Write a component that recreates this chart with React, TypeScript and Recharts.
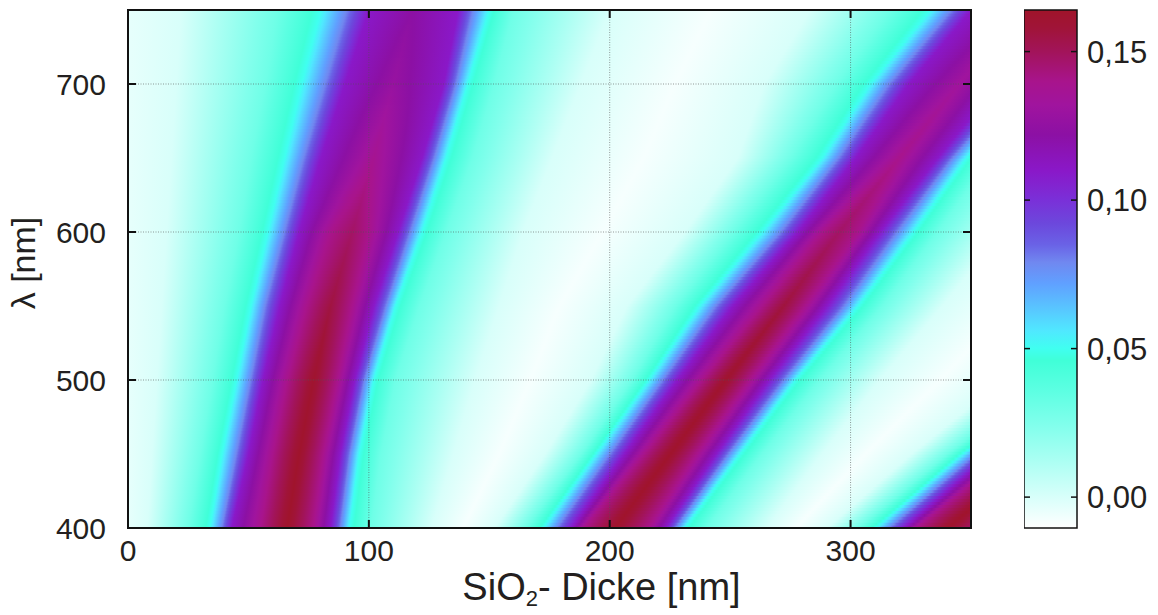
import React from 'react';
import { ComposedChart, XAxis, YAxis, ReferenceArea, ReferenceLine, Label } from 'recharts';

// ---------- axes / ticks ----------
const thicknessTicks = [0, 100, 200, 300];
const wavelengthTicks = [400, 500, 600, 700];
const contrastTicks = [0, 0.05, 0.1, 0.15];
const thicknessDomain: [number, number] = [0, 350];
const wavelengthDomain: [number, number] = [400, 750];
const contrastDomain: [number, number] = [-0.0104, 0.164];

// ---------- field data ----------
// rows of wavelength at which the band edges were read
const rowWavelengths = [400, 450, 500, 550, 600, 650, 700, 750];
// contrast level of each edge position in a band row (null = band peak)
const edgeLevels: (number | null)[] = [0, 0.03, 0.05, 0.08, 0.11, 0.14, null, 0.14, 0.11, 0.08, 0.05, 0.03, 0];

// contrast at zero oxide thickness
const zeroThicknessContrast = [-0.004, -0.004, -0.004, -0.004, -0.004, -0.004, -0.004, -0.004];

// band 1 (first contrast maximum): SiO2 thickness [nm] of each edge level
const band1Edges = [
  [8, 25, 34, 39, 43, 55, 66, 77, 84, 88, 92, 101, 126],
  [10, 30, 39, 45, 50, 60, 71, 81, 88, 92, 96, 105, 135],
  [12, 35, 45, 51, 56, 66, 77, 87, 94, 98, 102, 111, 144],
  [14, 40, 51, 57, 63, 74, 84, 93, 102, 107, 111, 121, 154],
  [16, 46, 58, 65, 71, 84, 93, 100, 112, 117, 122, 132, 164],
  [18, 51, 65, 73, 80, 102, 102, 102, 122, 127, 132, 143, 176],
  [20, 57, 72, 82, 90, 110, 110, 110, 131, 136, 141, 152, 188],
  [22, 62, 80, 91, 100, 118, 118, 118, 137, 143, 150, 160, 200],
];
const band1Peak = [0.163, 0.163, 0.162, 0.156, 0.148, 0.138, 0.128, 0.122];

// band 2 (second contrast maximum)
const band2Edges = [
  [152, 165, 172, 178, 184, 189, 202, 216, 223, 227, 231, 240, 265],
  [173, 188, 194, 200, 206, 214, 225, 236, 244, 249, 254, 263, 288],
  [192, 209, 216, 222, 228, 238, 248, 258, 266, 272, 277, 287, 312],
  [207, 227, 237, 244, 251, 263, 272, 281, 290, 297, 303, 313, 338],
  [231, 251, 263, 271, 278, 288, 295, 303, 312, 319, 326, 336, 363],
  [253, 275, 288, 295, 302, 320, 320, 320, 336, 342, 348, 358, 388],
  [264, 294, 308, 316, 324, 345, 345, 345, 361, 369, 375, 387, 419],
  [283, 316, 333, 342, 350, 370, 370, 370, 388, 396, 402, 414, 448],
];
const band2Peak = [0.163, 0.163, 0.162, 0.157, 0.148, 0.14, 0.133, 0.127];

// band 3 (third contrast maximum, only visible at short wavelengths)
const band3Edges = [
  [290, 303, 310, 316, 322, 327, 340, 354, 361, 365, 369, 378, 403],
  [325, 340, 346, 352, 358, 366, 377, 388, 396, 401, 406, 415, 440],
  [363, 380, 387, 393, 399, 409, 419, 429, 437, 443, 448, 458, 483],
  [394, 414, 424, 431, 438, 451, 459, 467, 476, 483, 489, 499, 525],
  [433, 453, 465, 473, 480, 490, 497, 505, 514, 521, 528, 538, 565],
  [470, 492, 505, 512, 519, 531, 537, 543, 553, 559, 565, 575, 605],
  [498, 528, 542, 550, 558, 576, 579, 582, 595, 603, 609, 621, 653],
  [535, 568, 585, 594, 602, 622, 622, 622, 640, 648, 654, 666, 700],
];
const band3Peak = [0.163, 0.163, 0.163, 0.16, 0.155, 0.15, 0.145, 0.14];

// thickness of the white minimum between the bands, and its contrast
const gap12 = [139, 154, 167, 179, 197, 214, 227, 242];
const gap23 = [277, 306, 337, 366, 398, 429, 458, 491];
const gapFloor = -0.008;

// ---------- colour map ----------
const contrastColors: [number, string][] = [
  [-0.0104, '#ffffff'],
  [0.0, '#d8fffa'],
  [0.012, '#acfff3'],
  [0.024, '#82ffec'],
  [0.036, '#5cffe2'],
  [0.046, '#40ffd8'],
  [0.05, '#40fff0'],
  [0.056, '#50e8ff'],
  [0.063, '#58c8ff'],
  [0.072, '#60a0ff'],
  [0.079, '#7088f0'],
  [0.085, '#6a62e6'],
  [0.092, '#6c48dc'],
  [0.1, '#7a30d8'],
  [0.11, '#8a18c8'],
  [0.122, '#8c10a4'],
  [0.132, '#a0149e'],
  [0.14, '#a8148c'],
  [0.15, '#a2145a'],
  [0.158, '#a01438'],
  [0.164, '#a0142a'],
];

// ---------- helpers ----------
const FONT = "'Liberation Sans', Arial, Helvetica, sans-serif";
const TEXT = '#231f20';
const CHART_W = 1158;
const CHART_H = 615;
const MARGIN = { top: 10, right: 187, bottom: 0, left: 0 };
const YAXIS_W = 128;
const XAXIS_H = 87;
const PLOT_W = CHART_W - MARGIN.left - MARGIN.right - YAXIS_W;
const PLOT_H = CHART_H - MARGIN.top - MARGIN.bottom - XAXIS_H;
const CB_W = 53;
const CB_AXIS_W = 81;

type Key = { x: number; v: number };

function hexToRgb(h: string): number[] {
  const n = parseInt(h.slice(1), 16);
  return [(n >> 16) & 255, (n >> 8) & 255, n & 255];
}
const cmap = contrastColors.map(([v, c]) => ({ v, rgb: hexToRgb(c) }));
function rgbStr(c: number[]) {
  return `rgb(${Math.round(c[0])},${Math.round(c[1])},${Math.round(c[2])})`;
}
function colorAt(v: number): string {
  if (v <= cmap[0].v) return rgbStr(cmap[0].rgb);
  for (let i = 1; i < cmap.length; i++) {
    if (v <= cmap[i].v) {
      const a = cmap[i - 1];
      const b = cmap[i];
      const t = (v - a.v) / (b.v - a.v);
      return rgbStr(a.rgb.map((c, k) => c + (b.rgb[k] - c) * t));
    }
  }
  return rgbStr(cmap[cmap.length - 1].rgb);
}

function bandKeys(edges: number[], peak: number): Key[] {
  return edges.map((x, k) => {
    const lv = edgeLevels[k];
    return { x, v: lv === null ? peak : Math.min(lv, peak) };
  });
}
function rowKeys(i: number): Key[] {
  return [
    { x: thicknessDomain[0] - 400, v: zeroThicknessContrast[i] },
    { x: thicknessDomain[0], v: zeroThicknessContrast[i] },
    ...bandKeys(band1Edges[i], band1Peak[i]),
    { x: gap12[i], v: gapFloor },
    ...bandKeys(band2Edges[i], band2Peak[i]),
    { x: gap23[i], v: gapFloor },
    ...bandKeys(band3Edges[i], band3Peak[i]),
    { x: thicknessDomain[1] + 400, v: gapFloor },
  ];
}
function keysAt(lambda: number): Key[] {
  let i = 0;
  while (i < rowWavelengths.length - 2 && lambda > rowWavelengths[i + 1]) i++;
  const t = (lambda - rowWavelengths[i]) / (rowWavelengths[i + 1] - rowWavelengths[i]);
  const a = rowKeys(i);
  const b = rowKeys(i + 1);
  return a.map((ka, k) => ({ x: ka.x + (b[k].x - ka.x) * t, v: ka.v + (b[k].v - ka.v) * t }));
}
function gradientFor(keys: Key[]) {
  const x0 = keys[0].x;
  const x1 = keys[keys.length - 1].x;
  const span = x1 - x0;
  const stops: { o: number; c: string }[] = [];
  const push = (x: number, v: number) => stops.push({ o: (x - x0) / span, c: colorAt(v) });
  push(keys[0].x, keys[0].v);
  for (let k = 1; k < keys.length; k++) {
    const a = keys[k - 1];
    const b = keys[k];
    if (b.x > a.x && b.v !== a.v) {
      const lo = Math.min(a.v, b.v);
      const hi = Math.max(a.v, b.v);
      const mids = cmap.filter((s) => s.v > lo && s.v < hi).map((s) => s.v);
      if (b.v < a.v) mids.reverse();
      for (const mv of mids) push(a.x + ((mv - a.v) / (b.v - a.v)) * (b.x - a.x), mv);
    }
    push(b.x, b.v);
  }
  const dw = thicknessDomain[1] - thicknessDomain[0];
  return { stops, gx1: (x0 - thicknessDomain[0]) / dw, gx2: (x1 - thicknessDomain[0]) / dw };
}

// horizontal slices in which the field is painted
const SLICE = 2;
const sliceStarts: number[] = [];
for (let l = wavelengthDomain[0]; l < wavelengthDomain[1]; l += SLICE) sliceStarts.push(l);

function makeSliceShape(lambda: number, id: string) {
  const g = gradientFor(keysAt(lambda + SLICE / 2));
  return (p: any) => (
    <g>
      <defs>
        <linearGradient id={id} x1={g.gx1} x2={g.gx2} y1={0} y2={0}>
          {g.stops.map((s, i) => (
            <stop key={i} offset={s.o} stopColor={s.c} />
          ))}
        </linearGradient>
      </defs>
      <rect x={p.x} y={p.y - 0.6} width={p.width} height={p.height + 1.2} fill={`url(#${id})`} stroke="none" />
    </g>
  );
}

const colorbarShape = (p: any) => {
  const span = contrastDomain[1] - contrastDomain[0];
  return (
    <g>
      <defs>
        <linearGradient id="cbgrad" x1={0} y1={1} x2={0} y2={0}>
          {contrastColors.map(([v, c], i) => (
            <stop key={i} offset={(v - contrastDomain[0]) / span} stopColor={c} />
          ))}
        </linearGradient>
      </defs>
      <rect x={p.x} y={p.y} width={p.width} height={p.height} fill="url(#cbgrad)" stroke="#111" strokeWidth={1.5} />
    </g>
  );
};

const XTick = (p: any) => {
  const { x, y, payload } = p;
  return (
    <g>
      <line x1={x} y1={y} x2={x} y2={y - 8} stroke="#111" strokeWidth={2} />
      <line x1={x} y1={y - PLOT_H} x2={x} y2={y - PLOT_H + 8} stroke="#111" strokeWidth={2} />
      <text x={x} y={y + 33} textAnchor="middle" fontFamily={FONT} fontSize={30} fill={TEXT}>
        {payload.value}
      </text>
    </g>
  );
};

const YTick = (p: any) => {
  const { x, y, payload } = p;
  return (
    <g>
      <line x1={x} y1={y} x2={x + 8} y2={y} stroke="#111" strokeWidth={2} />
      <line x1={x + PLOT_W} y1={y} x2={x + PLOT_W - 8} y2={y} stroke="#111" strokeWidth={2} />
      <text x={x - 22} y={y + 11} textAnchor="end" fontFamily={FONT} fontSize={30} fill={TEXT}>
        {payload.value}
      </text>
    </g>
  );
};

const CbTick = (p: any) => {
  const { x, y, payload } = p;
  return (
    <g>
      <line x1={x} y1={y} x2={x - 6} y2={y} stroke="#111" strokeWidth={1.5} />
      <line x1={x - CB_W} y1={y} x2={x - CB_W + 6} y2={y} stroke="#111" strokeWidth={1.5} />
      <text x={x + 10} y={y + 11} textAnchor="start" fontFamily={FONT} fontSize={31} fill={TEXT}>
        {Number(payload.value).toFixed(2).replace('.', ',')}
      </text>
    </g>
  );
};

const XTitle = (p: any) => {
  const vb = p.viewBox || { x: 128, y: 528, width: 843, height: 87 };
  return (
    <text x={vb.x + vb.width / 2 + 52} y={vb.y + 72} textAnchor="middle" fontFamily={FONT} fontSize={38} fill={TEXT}>
      SiO
      <tspan fontSize={22} dy={6}>2</tspan>
      <tspan dy={-6}>- Dicke [nm]</tspan>
    </text>
  );
};

const YTitle = (p: any) => {
  const vb = p.viewBox || { x: 0, y: 10, width: 128, height: 518 };
  const cx = vb.x + 35;
  const cy = vb.y + vb.height / 2 - 6;
  return (
    <text x={cx} y={cy} transform={`rotate(-90 ${cx} ${cy})`} textAnchor="middle" fontFamily={FONT} fontSize={34} fill={TEXT}>
      λ [nm]
    </text>
  );
};

export default function App() {
  return (
    <div style={{ position: 'absolute', left: 0, top: 0, width: CHART_W, height: CHART_H, background: '#fff' }}>
      <div style={{ position: 'absolute', left: 0, top: 0 }}>
        <ComposedChart width={CHART_W} height={CHART_H} margin={MARGIN}>
          <XAxis
            type="number"
            dataKey="x"
            domain={thicknessDomain}
            ticks={thicknessTicks}
            interval={0}
            allowDataOverflow
            axisLine={false}
            tickLine={false}
            tickSize={0}
            tickMargin={0}
            height={XAXIS_H}
            tick={XTick}
          >
            <Label content={XTitle} />
          </XAxis>
          <YAxis
            type="number"
            dataKey="y"
            domain={wavelengthDomain}
            ticks={wavelengthTicks}
            interval={0}
            allowDataOverflow
            axisLine={false}
            tickLine={false}
            tickSize={0}
            tickMargin={0}
            width={YAXIS_W}
            tick={YTick}
          >
            <Label content={YTitle} />
          </YAxis>
          {sliceStarts.map((l, i) => (
            <ReferenceArea
              key={`s${i}`}
              x1={thicknessDomain[0]}
              x2={thicknessDomain[1]}
              y1={l}
              y2={Math.min(l + SLICE, wavelengthDomain[1])}
              fillOpacity={1}
              ifOverflow="visible"
              shape={makeSliceShape(l, `sl${i}`)}
            />
          ))}
          {thicknessTicks.slice(1).map((t) => (
            <ReferenceLine key={`gx${t}`} x={t} stroke="#555" strokeOpacity={0.6} strokeDasharray="1 1.5" strokeWidth={1} />
          ))}
          {wavelengthTicks.slice(1).map((t) => (
            <ReferenceLine key={`gy${t}`} y={t} stroke="#555" strokeOpacity={0.6} strokeDasharray="1 1.5" strokeWidth={1} />
          ))}
          <ReferenceArea
            x1={thicknessDomain[0]}
            x2={thicknessDomain[1]}
            y1={wavelengthDomain[0]}
            y2={wavelengthDomain[1]}
            fill="none"
            fillOpacity={0}
            stroke="#111"
            strokeWidth={2}
            ifOverflow="visible"
          />
        </ComposedChart>
      </div>
      <div style={{ position: 'absolute', left: 1024, top: 0 }}>
        <ComposedChart width={CB_W + CB_AXIS_W} height={CHART_H} margin={{ top: 10, right: 0, bottom: 87, left: 0 }}>
          <XAxis type="number" dataKey="x" domain={[0, 1]} height={0} tick={false} axisLine={false} tickLine={false} allowDataOverflow />
          <YAxis
            type="number"
            dataKey="y"
            orientation="right"
            domain={contrastDomain}
            ticks={contrastTicks}
            interval={0}
            allowDataOverflow
            axisLine={false}
            tickLine={false}
            tickSize={0}
            tickMargin={0}
            width={CB_AXIS_W}
            tick={CbTick}
          />
          <ReferenceArea x1={0} x2={1} y1={contrastDomain[0]} y2={contrastDomain[1]} fillOpacity={1} ifOverflow="visible" shape={colorbarShape} />
        </ComposedChart>
      </div>
    </div>
  );
}
